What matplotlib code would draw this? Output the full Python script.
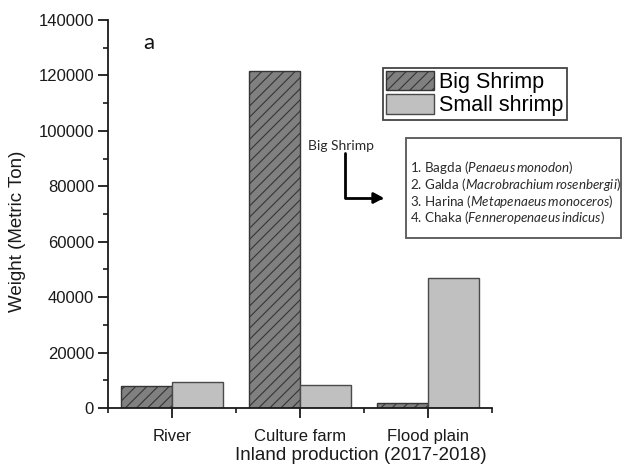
import numpy as np
import matplotlib
matplotlib.use("Agg")
import matplotlib.pyplot as plt
from matplotlib.patches import Rectangle
from matplotlib.ticker import MultipleLocator

# inland shrimp production 2017-2018 (metric ton)
sources = ["River", "Culture farm", "Flood plain"]
big_shrimp = [8000, 121500, 1700]
small_shrimp = [9500, 8300, 46800]

species = [("1. Bagda", "Penaeus monodon"),
           ("2. Galda", "Macrobrachium rosenbergii"),
           ("3. Harina", "Metapenaeus monoceros"),
           ("4. Chaka", "Fenneropenaeus indicus")]

plt.rcParams['font.family'] = ['Liberation Sans', 'DejaVu Sans']
plt.rcParams['hatch.linewidth'] = 0.8
plt.rcParams['mathtext.fontset'] = 'custom'
plt.rcParams['mathtext.it'] = 'Lato:italic'
plt.rcParams['mathtext.rm'] = 'Lato'

W, H = 624, 472

def fx(px):
    return px / W

def fy(py):
    # pixel rows counted from the top
    return 1 - py / H

fig = plt.figure(figsize=(6.24, 4.72), dpi=100)
ax = fig.add_axes([fx(108), fy(408), fx(384), 388 / H])

idx = np.arange(len(sources))
width = 0.4
b1 = ax.bar(idx - width / 2, big_shrimp, width, color='#808080',
            edgecolor='#353535', hatch='///', linewidth=1.0, label='Big Shrimp')
b2 = ax.bar(idx + width / 2, small_shrimp, width, color='#c0c0c0',
            edgecolor='#4a4a4a', linewidth=1.0, label='Small shrimp')

ax.set_xlim(-0.5, 2.5)
ax.set_ylim(0, 140000)
ax.set_xticks(idx)
ax.set_xticklabels(sources)
ax.xaxis.set_minor_locator(MultipleLocator(0.5))
ax.yaxis.set_major_locator(MultipleLocator(20000))
ax.yaxis.set_minor_locator(MultipleLocator(10000))

for s in ['top', 'right']:
    ax.spines[s].set_visible(False)
for s in ['left', 'bottom']:
    ax.spines[s].set_linewidth(1.3)
    ax.spines[s].set_color('#1a1a1a')

ax.tick_params(which='major', direction='out', length=7, width=1.3,
               labelsize=12, pad=3, colors='#1a1a1a')
ax.tick_params(which='minor', direction='out', length=3.5, width=1.2,
               colors='#1a1a1a')
ax.tick_params(axis='x', which='major', pad=8)

fig.text(fx(361), fy(455), "Inland production (2017-2018)", fontsize=13.5,
         ha='center', va='center', color='#1a1a1a')
fig.text(fx(18), fy(231), "Weight (Metric Ton)", fontsize=13.5,
         rotation=90, ha='center', va='center', color='#1a1a1a')
fig.text(fx(149), fy(43), "a", fontsize=16, family='Lato',
         ha='center', va='center', color='#111111')

leg = fig.legend(handles=[b1, b2], loc='upper left',
                 bbox_to_anchor=(fx(383), fy(68)), borderaxespad=0,
                 fontsize=15.5, handlelength=2.2, handleheight=1.0,
                 handletextpad=0.25, labelspacing=0.05, borderpad=0.15,
                 fancybox=False, framealpha=1, edgecolor='#444444')
leg.get_frame().set_linewidth(1.3)

# species list for the big shrimp group
fig.add_artist(Rectangle((fx(406), fy(238)), fx(215), 100 / H,
                         transform=fig.transFigure, facecolor='white',
                         edgecolor='#555555', linewidth=1.3))
for i, (common, latin) in enumerate(species):
    latin_tex = latin.replace(" ", r"\,")
    fig.text(fx(410), fy(167 + 17 * i),
             common + " ($\\mathit{" + latin_tex + "}$)",
             fontsize=9.6, family='Lato', ha='left', va='center',
             color='#2a2a2a')

fig.text(fx(341), fy(146), "Big Shrimp", fontsize=10, family='Lato',
         ha='center', va='center', color='#2a2a2a')
ax.annotate('', xy=(fx(384), fy(198)), xycoords='figure fraction',
            xytext=(fx(345), fy(153)), textcoords='figure fraction',
            arrowprops=dict(arrowstyle='-|>,head_length=0.6,head_width=0.32',
                            connectionstyle='angle,angleA=90,angleB=0,rad=0',
                            color='black', lw=2, shrinkA=0, shrinkB=0))

fig.savefig("out.png", dpi=100)
